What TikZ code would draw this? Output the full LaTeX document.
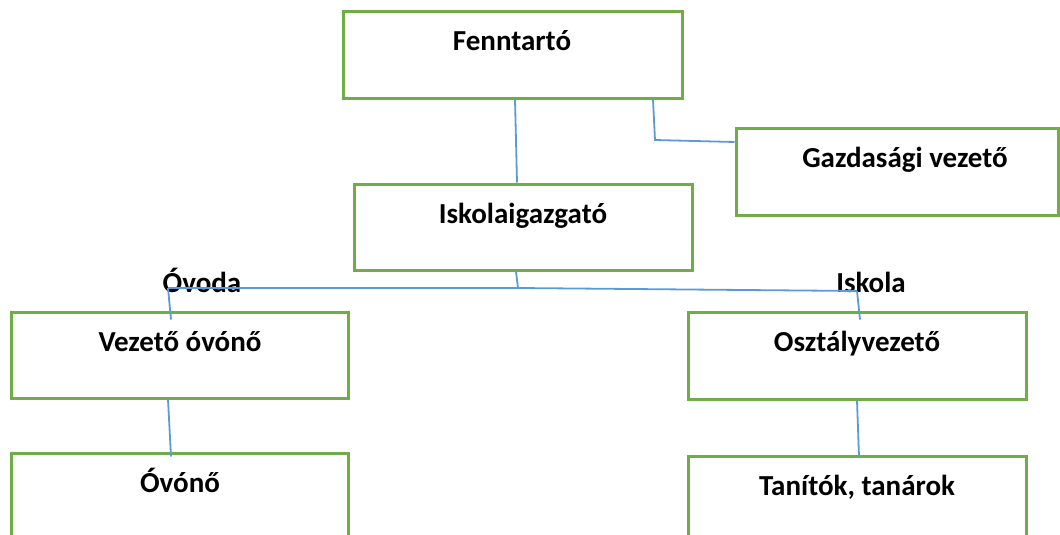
\documentclass[tikz,border=0pt]{standalone}
\usepackage{fontspec}
\setmainfont{Carlito}
\definecolor{boxgreen}{HTML}{70AD47}
\definecolor{lineblue}{HTML}{5B9BD5}
\begin{document}
\begin{tikzpicture}[x=1pt,y=-1pt,
  box/.style={draw=boxgreen,line width=3pt,fill=white,rectangle,inner sep=0pt},
  txt/.style={anchor=base,font=\fontsize{29}{34}\selectfont\bfseries,inner sep=0pt},
  conn/.style={draw=lineblue,line width=1.8pt}]
\useasboundingbox (0,0) rectangle (1060,535);
\clip (0,0) rectangle (1060,535);
% boxes
\node[box,minimum width=339pt,minimum height=86pt] (f) at (512.5,55) {};
\node[box,minimum width=322pt,minimum height=87pt] (g) at (897,171.5) {};
\node[box,minimum width=338pt,minimum height=86pt] (i) at (523,227) {};
\node[box,minimum width=337pt,minimum height=86pt] (v) at (179.5,355) {};
\node[box,minimum width=338pt,minimum height=87pt] (o) at (857,355.5) {};
\node[box,minimum width=337pt,minimum height=120pt] (ov) at (179.5,513) {};
\node[box,minimum width=338pt,minimum height=120pt] (t) at (857,516) {};
% texts
\node[txt] (tf) at (512,51) {Fenntartó};
\node[txt] (tg) at (905,167) {Gazdasági vezető};
\node[txt] (ti) at (523,223) {Iskolaigazgató};
\node[txt] (tv) at (180,351) {Vezető óvónő};
\node[txt] (to) at (857,351) {Osztályvezető};
\node[txt] (tov) at (180,492) {Óvónő};
\node[txt] (tt) at (857,495) {Tanítók, tanárok};
\node[txt] (lov) at (202,292) {Óvoda};
\node[txt] (lis) at (871,292) {Iskola};
% junctions
\coordinate (jg) at (655,140);
\coordinate (ji) at (518,288);
\coordinate (jl) at (168,288);
\coordinate (jr) at (857,291);
% connectors
\draw[conn] ([xshift=2.5pt]f.south) -- ([xshift=-6pt]i.north);
\draw[conn] ([xshift=140.5pt]f.south) -- (jg) -- (g.west |- 0,142);
\draw[conn] ([xshift=-7pt]i.south) -- (ji);
\draw[conn] (jl) -- (ji) -- (jr);
\draw[conn] (jl) -- ([xshift=-8.5pt,yshift=-9pt]v.north);
\draw[conn] (jr) -- ([xshift=3pt,yshift=-9pt]o.north);
\draw[conn] ([xshift=-11.5pt]v.south) -- ([xshift=-8.5pt,yshift=-5pt]ov.north);
\draw[conn] (o.south) -- ([xshift=2pt,yshift=-2pt]t.north);
\end{tikzpicture}
\end{document}
